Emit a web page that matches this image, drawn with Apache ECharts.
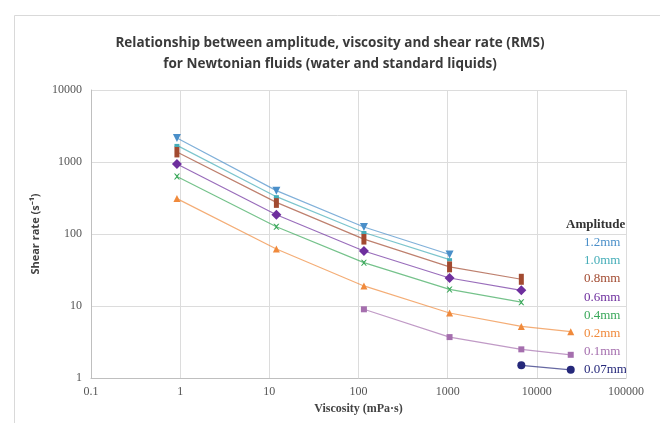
<!DOCTYPE html>
<html>
<head>
<meta charset="utf-8">
<script src="https://cdn.jsdelivr.net/npm/echarts@6/dist/echarts.min.js"></script>
<style>html,body{margin:0;padding:0;background:#fff}#c{width:660px;height:423px}</style>
</head>
<body>
<div id="c"></div>
<script>
// ---- data ----
var titleLines = ["Relationship between amplitude, viscosity and shear rate (RMS)", "for Newtonian fluids (water and standard liquids)"];
var xAxisName = "Viscosity (mPa·s)";
var yAxisName = "Shear rate (s⁻¹)";
var legendTitle = "Amplitude";
var viscosity = [0.92, 12, 115, 1050, 6700, 24000];
var seriesNames = ["1.2mm", "1.0mm", "0.8mm", "0.6mm", "0.4mm", "0.2mm", "0.1mm", "0.07mm"];
var amp12 = [2150, 400, 125, 52, null, null];
var amp10 = [1700, 330, 105, 44, null, null];
var amp08 = [1380, 275, 85, 35, 23.5, null];
var amp06 = [940, 185, 58, 24.5, 16.5, null];
var amp04 = [630, 126, 40, 17, 11.3, null];
var amp02 = [310, 62, 19, 8, 5.2, 4.4];
var amp01 = [null, null, 9, 3.7, 2.5, 2.1];
var amp007 = [null, null, null, null, 1.5, 1.3];
var seriesValues = [amp12, amp10, amp08, amp06, amp04, amp02, amp01, amp007];

// ---- styles ----
var colors = ["#4a8fc9", "#45adb8", "#a24a30", "#6e2f9e", "#3aa85a", "#f08a3c", "#a56fae", "#25287a"];
var symbols = ["path://M0,0 L10,0 L5,9 Z", "rect", "rect", "diamond", "path://M0,0 L2,0 L5,3 L8,0 L10,0 L6,5 L10,10 L8,10 L5,7 L2,10 L0,10 L4,5 Z", "triangle", "rect", "circle"];
var symbolSizes = [8, [5, 3], [5, 11], 10, 6, 7, 6, 8];

var series = seriesValues.map(function (vals, i) {
  var d = [];
  vals.forEach(function (v, j) { if (v !== null) d.push([viscosity[j], v]); });
  return {
    name: seriesNames[i], type: 'line', data: d,
    symbol: symbols[i], symbolSize: symbolSizes[i],
    itemStyle: { color: colors[i] },
    lineStyle: { color: colors[i], width: 1.2, opacity: 0.7 },
    z: 10 - i
  };
});
series.reverse();

var labelFont = "'Liberation Serif', 'DejaVu Serif', serif";
var graphics = [
  { type: 'rect', left: 12, top: 13, shape: { width: 660, height: 420 }, style: { fill: 'none', stroke: '#d9d9d9', lineWidth: 1 } },
  { type: 'text', x: 566, y: 218, style: { text: legendTitle, font: "bold 13px " + labelFont, fill: '#333' } }
];
seriesNames.forEach(function (n, i) {
  graphics.push({ type: 'text', x: 584, y: 236 + i * 18.2, style: { text: n, font: "13px " + labelFont, fill: colors[i] } });
});

function plain(v) { return String(v); }

var chart = echarts.init(document.getElementById('c'), null, { renderer: 'canvas' });
chart.setOption({
  animation: false,
  backgroundColor: '#fff',
  title: {
    text: titleLines.join('\n'),
    left: 'center', top: 28,
    textStyle: { fontFamily: "'Open Sans', sans-serif", fontWeight: 'bold', fontSize: 13.5, color: '#3a3a3a', lineHeight: 21 }
  },
  grid: { left: 91, right: 34, top: 90, bottom: 45 },
  xAxis: {
    type: 'log', logBase: 10, min: 0.1, max: 100000,
    name: xAxisName, nameLocation: 'middle', nameGap: 24,
    nameTextStyle: { fontFamily: labelFont, fontWeight: 'bold', fontSize: 12, color: '#444' },
    axisLine: { lineStyle: { color: '#bfbfbf' } },
    axisTick: { show: false },
    axisLabel: { fontFamily: labelFont, fontSize: 12, color: '#555', margin: 8, formatter: plain },
    splitLine: { show: true, lineStyle: { color: '#dcdcdc' } }
  },
  yAxis: {
    type: 'log', logBase: 10, min: 1, max: 10000,
    name: yAxisName, nameLocation: 'middle', nameGap: 50,
    nameTextStyle: { fontFamily: "'Open Sans', sans-serif", fontWeight: 'bold', fontSize: 11, color: '#444' },
    axisLine: { show: true, lineStyle: { color: '#bfbfbf' } },
    axisTick: { show: false },
    axisLabel: { fontFamily: labelFont, fontSize: 12, color: '#555', margin: 9, formatter: plain },
    splitLine: { show: true, lineStyle: { color: '#dcdcdc' } }
  },
  graphic: graphics,
  series: series
});
</script>
</body>
</html>
